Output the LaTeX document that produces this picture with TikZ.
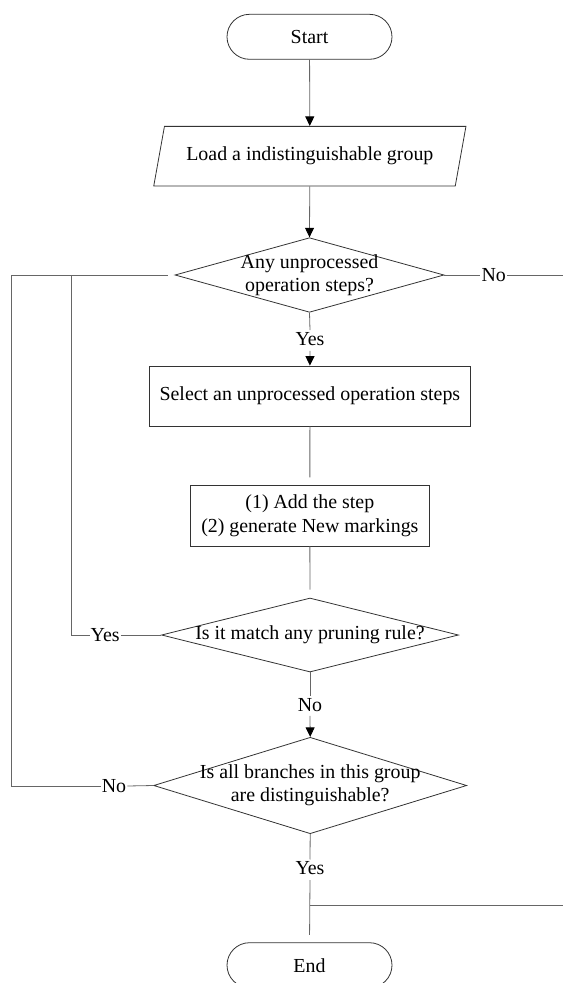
\documentclass[tikz,border=0pt]{standalone}
\usepackage{fontspec}
\setmainfont{Liberation Serif}
\usetikzlibrary{arrows.meta,shapes.geometric,shapes.misc}

\begin{document}
\begin{tikzpicture}[x=1pt,y=-1pt,
  every node/.style={font=\fontsize{19.9}{23.4}\selectfont, text=black},
  shapeline/.style={draw=black!80, line width=0.8pt},
  terminal/.style={shapeline, rounded rectangle, minimum width=165pt, minimum height=45pt, inner sep=0pt},
  iobox/.style={shapeline, trapezium, trapezium left angle=63.3, trapezium right angle=116.7,
                trapezium stretches=true, minimum width=312.3pt, minimum height=59.7pt, inner sep=0pt},
  procbox/.style={shapeline, rectangle, inner sep=0pt},
  decision/.style={shapeline, diamond, inner sep=0pt},
  txt/.style={align=center, inner sep=0pt},
  lbl/.style={inner sep=2pt},
  conn/.style={draw=black!60, line width=0.8pt},
  arr/.style={conn, -{Triangle[length=9.5pt,width=9pt,color=black]}}
]
\useasboundingbox (0,0) rectangle (563,983);

% main column
\node[terminal] (start) at (309.5,36.8) {Start};
\node[iobox] (load) at (309.85,156.2) {Load a indistinguishable group};
\node[decision, minimum width=269pt, minimum height=74.6pt] (d1) at (309.5,275) {};
\node[txt] (d1t) at (d1.center) {Any unprocessed\\operation steps?};
\node[lbl] (yes1) at (310,339) {Yes};
\node[procbox, minimum width=321pt, minimum height=60pt] (box1) at (309.9,396)
  {Select an unprocessed operation steps};
\node[procbox, minimum width=239.1pt, minimum height=60.3pt, align=center] (box2) at (309.85,515.85)
  {(1) Add the step\\(2) generate New markings};
\node[decision, minimum width=297pt, minimum height=74pt] (d2) at (310,635) {};
\node[txt] (d2t) at (d2.center) {Is it match any pruning rule?};
\node[lbl] (no2) at (310,705) {No};
\node[decision, minimum width=313pt, minimum height=96.4pt] (d3) at (310.2,785.5) {};
\node[txt] (d3t) at (d3.center) {Is all branches in this group\\are distinguishable?};
\node[lbl] (yes3) at (310,868.3) {Yes};
\node[terminal] (end) at (309.5,965.2) {End};

% side labels
\node[lbl, inner sep=1pt] (no1) at (493.7,275) {No};
\node[lbl, inner sep=1pt] (yes2) at (105.2,635) {Yes};
\node[lbl, inner sep=1pt] (no3) at (114,786) {No};

% free ends and bends
\coordinate (exitA) at (563,275);
\coordinate (exitB) at (563,905);
\coordinate (loopA) at (11.8,275);
\coordinate (loopAb) at (11.8,786);
\coordinate (loopB) at (71,275);
\coordinate (loopBb) at (71,635);
\coordinate (split) at (310,905);

% vertical flow
\draw[arr] (start) -- (load);
\draw[arr] (load) -- (d1.north);
\draw[conn] (d1.south) -- (yes1.north);
\draw[arr] (yes1.south) ++(0,3) -- (box1.north);
\draw[conn, shorten >=8pt] (box1.south) -- (box2.north);
\draw[conn, shorten >=8pt] (box2.south) -- (d2.north);
\draw[conn] (d2.south) -- (no2.north);
\draw[arr] (no2.south) ++(0,2) -- (d3.north);
\draw[conn] (d3.south) -- (yes3.north);
\draw[conn, shorten >=7.5pt] (yes3.south) ++(0,3) -- (end.north);
\draw[conn] (split) -- (exitB);

% right exit
\draw[conn] (d1.east) -- (no1.west);
\draw[conn] (no1.east) -- (exitA);

% loop back lines on the left
\draw[conn, shorten <=7pt] (d1.west) -- (loopA) -- (loopAb) -- (no3.west);
\draw[conn] (no3.east) -- (d3.west);
\draw[conn] (loopB) -- (loopBb) -- (yes2.west);
\draw[conn] (yes2.east) -- (d2.west);
\end{tikzpicture}
\end{document}
